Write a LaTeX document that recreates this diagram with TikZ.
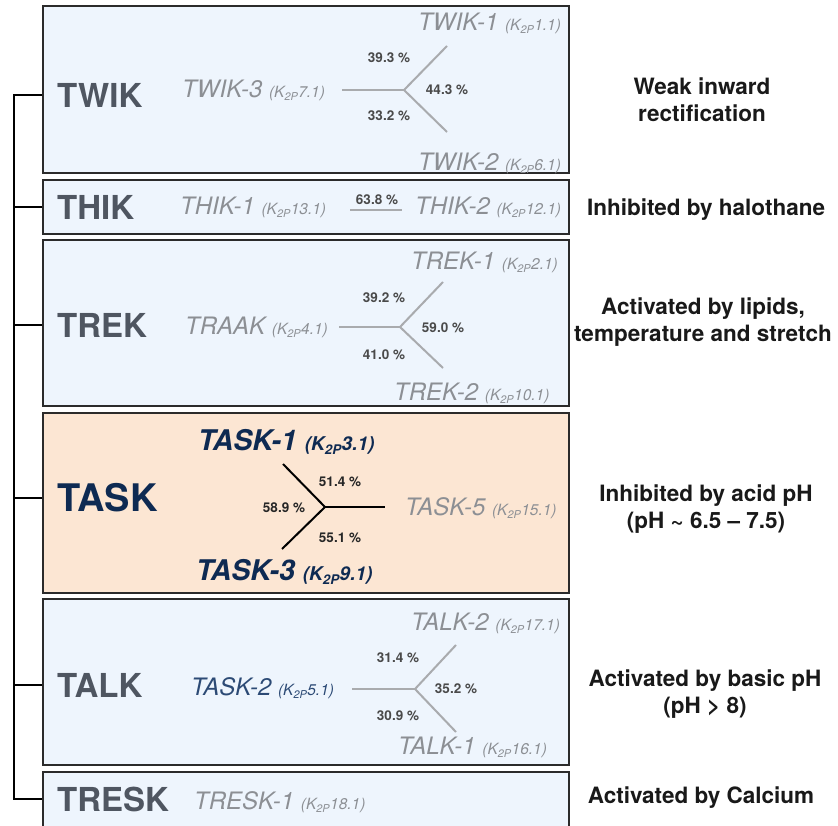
\documentclass[tikz,border=0pt]{standalone}
\usepackage{fontspec}
\setmainfont{TeX Gyre Heros}
\definecolor{frameblue}{HTML}{EEF5FD}
\definecolor{framepeach}{HTML}{FCE6D3}
\definecolor{frameline}{HTML}{2B2B2B}
\definecolor{famgray}{HTML}{4F5661}
\definecolor{navy}{HTML}{0E2A52}
\definecolor{navylight}{HTML}{2C4A75}
\definecolor{memgray}{HTML}{8C8F94}
\definecolor{pctgray}{HTML}{4A4A4A}
\definecolor{branchgray}{HTML}{A9ABAE}
\newcommand\kp[1]{{\fontsize{15.5}{15.5}\selectfont(K\textsubscript{2P}#1)}}
\newcommand\kpb[1]{{\fontsize{19}{19}\selectfont(K\textsubscript{2P}#1)}}
\tikzset{
    every node/.style={inner sep=0},
    famframe/.style={draw=frameline, line width=2pt, fill=frameblue, minimum width=526},
    taskframe/.style={famframe, fill=framepeach},
    fam/.style={anchor=west, font=\bfseries\fontsize{33}{33}\selectfont, text=famgray},
    member/.style={anchor=west, font=\itshape\fontsize{24}{24}\selectfont, text=memgray},
    taskmember/.style={anchor=west, font=\bfseries\itshape\fontsize{28.5}{28.5}\selectfont, text=navy},
    pct/.style={font=\bfseries\fontsize{13.5}{13.5}\selectfont, text=pctgray},
    prop/.style={align=center, font=\bfseries\fontsize{22.5}{27}\selectfont, text=black!90},
    branch/.style={draw=branchgray, line width=2pt},
    taskbranch/.style={draw=black, line width=2pt},
    link/.style={draw=black, line width=2pt}
}

\begin{document}
\begin{tikzpicture}[x=1pt,y=-1pt]
\clip (0,0) rectangle (838,826);

% frames
\node[famframe, minimum height=167] at (306,90) (boxtwik) {};
\node[famframe, minimum height=54] at (306,207) (boxthik) {};
\node[famframe, minimum height=166] at (306,323) (boxtrek) {};
\node[taskframe, minimum height=180] at (306,503) (boxtask) {};
\node[famframe, minimum height=166] at (306,682) (boxtalk) {};
\node[famframe, minimum height=58] at (306,801) (boxtresk) {};

% family names
\node[fam] at (57,95) (twik) {TWIK};
\node[fam] at (57,207) (thik) {THIK};
\node[fam] at (57,325) (trek) {TREK};
\node[fam, font=\bfseries\fontsize{38}{38}\selectfont, text=navy] at (57,498) (task) {TASK};
\node[fam] at (57,685) (talk) {TALK};
\node[fam] at (57,799) (tresk) {TRESK};

% TWIK
\node[member] at (418,23) (twik1) {TWIK-1 \kp{1.1}};
\node[member] at (182,90) (twik3) {TWIK-3 \kp{7.1}};
\node[member] at (418,163) (twik2) {TWIK-2 \kp{6.1}};
\coordinate (twiks) at (342,90);
\coordinate (twikj) at (404,90);
\coordinate (twika) at (447,46);
\coordinate (twikb) at (447,132);
\draw[branch] (twiks) -- (twikj);
\draw[branch] (twikj) -- (twika);
\draw[branch] (twikj) -- (twikb);
\node[pct] at (389,58) (twikp1) {39.3 \%};
\node[pct] at (447,90) (twikp2) {44.3 \%};
\node[pct] at (389,116) (twikp3) {33.2 \%};

% THIK
\node[member] at (180,207) (thik1) {THIK-1 \kp{13.1}};
\node[member] at (415,207) (thik2) {THIK-2 \kp{12.1}};
\coordinate (thiks) at (350,210);
\coordinate (thike) at (402,210);
\draw[branch] (thiks) -- (thike);
\node[pct] at (377,200) (thikp1) {63.8 \%};

% TREK
\node[member] at (411,262) (trek1) {TREK-1 \kp{2.1}};
\node[member] at (185,327) (traak) {TRAAK \kp{4.1}};
\node[member] at (394,393) (trek2) {TREK-2 \kp{10.1}};
\coordinate (treks) at (339,327);
\coordinate (trekj) at (400,327);
\coordinate (treka) at (443,282);
\coordinate (trekb) at (443,368);
\draw[branch] (treks) -- (trekj);
\draw[branch] (trekj) -- (treka);
\draw[branch] (trekj) -- (trekb);
\node[pct] at (384,298) (trekp1) {39.2 \%};
\node[pct] at (443,328) (trekp2) {59.0 \%};
\node[pct] at (384,355) (trekp3) {41.0 \%};

% TASK
\node[taskmember] at (198,442) (task1) {TASK-1 \kpb{3.1}};
\node[taskmember] at (196,572) (task3) {TASK-3 \kpb{9.1}};
\node[member] at (405,508) (task5) {TASK-5 \kp{15.1}};
\coordinate (taskj) at (325,507);
\coordinate (taska) at (283,464);
\coordinate (taskb) at (282,549);
\coordinate (taske) at (385,507);
\draw[taskbranch] (taska) -- (taskj);
\draw[taskbranch] (taskb) -- (taskj);
\draw[taskbranch] (taskj) -- (taske);
\node[pct, text=black!85] at (340,482) (taskp1) {51.4 \%};
\node[pct, text=black!85] at (284,508) (taskp2) {58.9 \%};
\node[pct, text=black!85] at (340,538) (taskp3) {55.1 \%};

% TALK
\node[member] at (411,623) (talk2) {TALK-2 \kp{17.1}};
\node[member, text=navylight] at (191,688) (task2) {TASK-2 \kp{5.1}};
\node[member] at (398,747) (talk1) {TALK-1 \kp{16.1}};
\coordinate (talks) at (352,689);
\coordinate (talkj) at (415,689);
\coordinate (talka) at (456,645);
\coordinate (talkb) at (456,732);
\draw[branch] (talks) -- (talkj);
\draw[branch] (talkj) -- (talka);
\draw[branch] (talkj) -- (talkb);
\node[pct] at (398,658) (talkp1) {31.4 \%};
\node[pct] at (456,689) (talkp2) {35.2 \%};
\node[pct] at (398,716) (talkp3) {30.9 \%};

% TRESK
\node[member] at (194,802) (tresk1) {TRESK-1 \kp{18.1}};

% properties
\node[prop] at (702,100) (twikprop) {Weak inward\\rectification};
\node[prop] at (706,210) (thikprop) {Inhibited by halothane};
\node[prop] at (703,322) (trekprop) {Activated by lipids,\\temperature and stretch};
\node[prop] at (706,509) (taskprop) {Inhibited by acid pH\\(pH \textasciitilde{} 6.5 – 7.5)};
\node[prop] at (705,694) (talkprop) {Activated by basic pH\\(pH > 8)};
\node[prop] at (701,798) (treskprop) {Activated by Calcium};

% family tree
\coordinate (spine) at (14,0);
\draw[link] (twik -| boxtwik.west) -- (twik -| spine) -- (tresk -| spine) -- (tresk -| boxtresk.west);
\foreach \f in {thik,trek,task,talk}
    \draw[link] (\f -| box\f.west) -- (\f -| spine);
\end{tikzpicture}
\end{document}
